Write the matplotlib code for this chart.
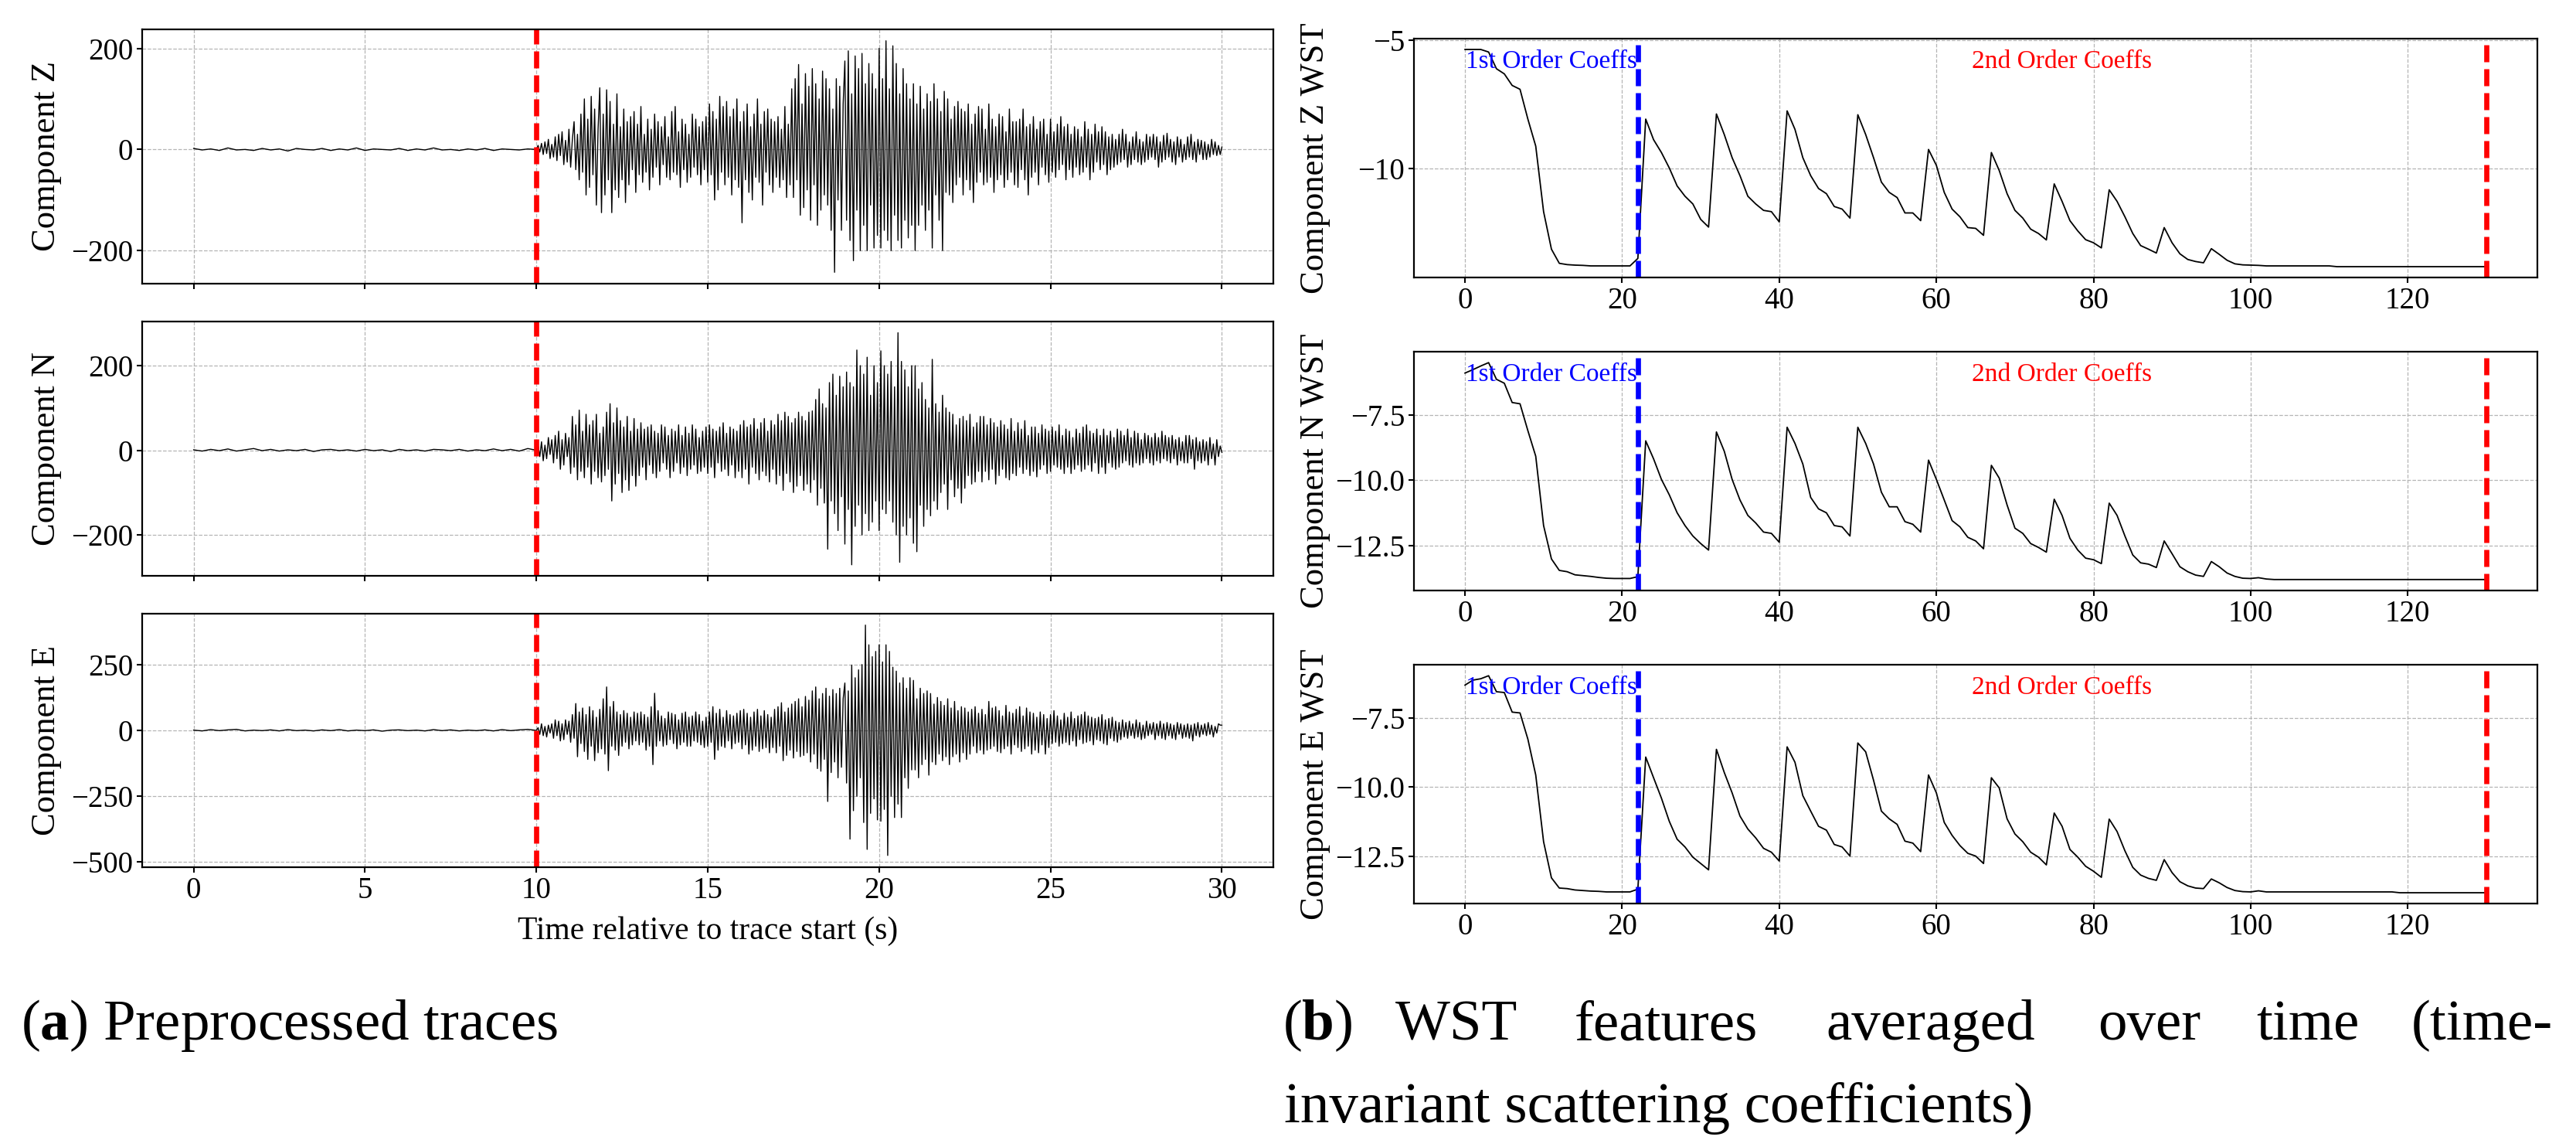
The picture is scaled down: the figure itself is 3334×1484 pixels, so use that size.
import matplotlib
matplotlib.use("Agg")
import matplotlib.pyplot as plt
import matplotlib.transforms as mtransforms
import numpy as np

plt.rcParams["font.family"] = ["Liberation Serif", "DejaVu Serif"]
plt.rcParams["mathtext.fontset"] = "custom"
plt.rcParams["mathtext.rm"] = "Liberation Serif"
plt.rcParams["mathtext.bf"] = "Liberation Serif:bold"

# ---- traces ----
# before the onset: one value every 0.25 s, 0 .. 9.75 s
z_pre = [2, -1, 1, -2, 3, -1, 0, -2, 2, -1, 1, -3, 2, 0, -1, 2, -2, 1, -1, 3,
         -2, 1, 0, -1, 2, -2, 1, -1, 3, -1, 0, -2, 1, -1, 2, -2, 1, 0, -1, 1]
n_pre = [1, -2, 2, -1, 3, -2, 1, 4, -1, 2, -2, 1, -1, 2, -3, 1, 2, -1, 1, -2,
         2, -1, 1, -3, 2, -1, 1, -2, 2, 1, -1, 2, -2, 1, -1, 3, -1, 2, -2, 4]
e_pre = [1, -2, 3, -1, 2, 4, -2, 1, -1, 2, -2, 3, -1, 1, -2, 2, -1, 3, -2, 1,
         -1, 2, -3, 1, 2, -1, 1, -2, 3, -1, 2, -2, 1, -1, 2, -2, 3, -1, 2, 4]

# after the onset: one value every 0.05 s, 10.0 .. 30.0 s
z_evt = [0, 8, -5, 12, -10, 15, -8, 20, -18, 10,
         -15, 25, -22, 30, -12, 35, -30, 18, -25, 40,
         -35, 20, 55, -40, 30, -60, 70, -45, 100, -90,
         60, -75, 105, -50, 80, -110, 40, 122, -125, 70,
         -90, 118, -60, 95, -125, 50, -80, 110, -95, 45,
         -60, 80, -105, 55, -70, 65, -40, 75, -85, 50,
         -50, 85, -65, 30, -45, 60, -80, 40, -55, 70,
         -35, 55, -70, 45, -30, 65, -55, 25, -60, 75,
         -45, 85, -50, 35, -75, 60, -40, 50, -65, 30,
         -55, 70, -35, 60, -50, 45, -70, 55, -40, 65,
         -65, 90, -50, 75, -100, 60, -80, 105, -45, 85,
         -70, 95, -55, 65, -90, 80, -60, 100, -75, 55,
         -145, 75, -60, 90, -85, 45, -100, 70, -55, 100,
         -65, 50, -110, 75, -45, 80, -70, 60, -85, 55,
         -55, 65, -75, 40, -60, 85, -95, 50, -70, 120,
         -95, 140, -60, 168, -130, 90, -115, 150, -80, 125,
         -140, 160, -70, 130, -150, 100, -120, 155, -90, 140,
         -110, 120, -160, 80, -243, 140, -100, 125, -160, 90,
         175, -140, 195, -180, 110, -220, 185, -120, 160, -200,
         190, -150, 130, -200, 170, -110, 150, -195, 120, -170,
         200, -195, 140, -160, 215, -180, 120, -200, 205, -130,
         170, -180, 110, -195, 160, -140, 130, -175, 100, -150,
         130, -200, 90, -150, 125, -110, 80, -160, 110, -120,
         95, -195, 130, -90, 100, -140, 75, -200, 115, -85,
         100, -90, 60, -105, 85, -70, 95, -55, 80, -90,
         75, -60, 90, -80, 50, -105, 70, -65, 85, -45,
         80, -70, 40, -65, 90, -55, 60, -85, 45, -60,
         70, -50, 65, -75, 35, -60, 80, -45, 55, -70,
         55, -75, 60, -40, 80, -60, 45, -90, 50, -55,
         65, -45, 40, -70, 55, -35, 60, -50, 30, -65,
         60, -45, 35, -55, 50, -40, 65, -30, 45, -60,
         50, -40, 30, -55, 45, -35, 40, -50, 25, -45,
         55, -35, 40, -60, 30, -45, 50, -25, 35, -40,
         45, -30, 35, -50, 25, -40, 30, -35, 20, -30,
         30, -25, 40, -20, 30, -35, 15, -30, 25, -20,
         35, -25, 20, -30, 15, -25, 30, -20, 25, -15,
         30, -20, 25, -35, 15, -25, 28, -20, 32, -15,
         20, -25, 15, -30, 25, -15, 20, -25, 10, -20,
         25, -15, 30, -20, 15, -25, 20, -10, 18, -20,
         15, -20, 10, -15, 20, -10, 15, -12, 8, -10,
         5]
n_evt = [0, 10, -15, 20, -25, 12, -20, 30, -10, 25,
         -30, 35, -20, 45, -45, 25, -35, 40, -15, 30,
         -55, 80, -40, 60, -70, 95, -50, 45, -65, 85,
         -40, 60, -80, 70, -50, 85, -65, 40, -75, 55,
         -60, 90, -45, 110, -120, 65, -80, 100, -55, 70,
         -100, 55, -70, 80, -95, 45, -60, 75, -85, 50,
         -60, 65, -40, 50, -70, 55, -35, 60, -55, 45,
         -65, 40, -50, 60, -30, 55, -45, 35, -65, 50,
         -50, 45, -30, 60, -55, 35, -40, 55, -60, 40,
         -45, 60, -35, 50, -55, 30, -50, 45, -40, 55,
         -55, 60, -40, 50, -65, 45, -30, 55, -50, 65,
         -45, 40, -60, 55, -35, 50, -65, 45, -50, 60,
         -65, 70, -45, 55, -80, 60, -40, 75, -55, 50,
         -70, 65, -50, 75, -60, 45, -75, 70, -45, 60,
         -80, 85, -60, 70, -95, 90, -55, 80, -75, 65,
         -100, 75, -85, 90, -60, 80, -95, 70, -80, 90,
         -100, 93, -70, 120, -130, 145, -90, 110, -125, 100,
         -234, 160, -120, 180, -150, 130, -190, 175, -110, 150,
         -222, 185, -140, 160, -271, 150, -180, 237, -130, 200,
         -200, 180, -150, 220, -190, 130, -170, 200, -120, 160,
         -190, 235, -140, 200, -150, 180, -120, 210, -170, 150,
         -200, 278, -265, 210, -180, 190, -200, 150, -160, 200,
         -220, 200, -240, 145, -130, 160, -180, 120, -140, 100,
         -155, 215, -120, 110, -140, 90, -100, 130, -80, 100,
         -140, 90, -70, 85, -110, 60, -90, 75, -125, 80,
         -90, 70, -60, 85, -80, 55, -75, 65, -50, 80,
         -75, 80, -50, 60, -70, 75, -45, 65, -80, 55,
         -60, 70, -45, 60, -65, 50, -70, 75, -55, 45,
         -60, 65, -40, 50, -55, 70, -45, 35, -60, 55,
         -50, 55, -63, 40, -45, 60, -35, 50, -55, 45,
         -50, 55, -35, 45, -40, 60, -45, 35, -55, 50,
         -40, 45, -55, 30, -45, 50, -35, 40, -50, 55,
         -45, 60, -35, 45, -50, 40, -30, 50, -55, 35,
         -40, 50, -55, 35, -30, 45, -40, 30, -45, 50,
         -40, 45, -30, 35, -25, 50, -35, 30, -40, 45,
         -30, 40, -35, 25, -30, 40, -20, 35, -30, 30,
         -35, 40, -25, 30, -30, 45, -20, 35, -25, 30,
         -30, 35, -20, 25, -35, 30, -25, 20, -30, 35,
         -30, 35, -20, 25, -45, 30, -25, 20, -30, 25,
         -25, 20, -35, 30, -20, 15, -35, 25, -15, 10,
         -5]
e_evt = [0, 10, -15, 25, -20, 15, -25, 20, -10, 25,
         -30, 40, -20, 35, -40, 25, -35, 40, -15, 35,
         -45, 60, -30, 102, -100, 70, -50, 85, -80, 60,
         -110, 90, -60, 75, -115, 50, -85, 80, -70, 120,
         -90, 165, -153, 90, -60, 110, -75, 70, -95, 60,
         -60, 75, -45, 65, -70, 50, -55, 70, -40, 65,
         -55, 70, -45, 60, -75, 50, -60, 90, -130, 141,
         -60, 75, -40, 55, -60, 45, -55, 70, -35, 65,
         -50, 60, -70, 40, -55, 65, -45, 70, -60, 50,
         -60, 55, -40, 70, -45, 60, -55, 35, -65, 50,
         -60, 70, -45, 90, -110, 65, -75, 80, -60, 50,
         -65, 75, -40, 60, -70, 55, -50, 65, -45, 75,
         -70, 80, -55, 65, -90, 50, -75, 70, -60, 80,
         -80, 55, -70, 75, -65, 60, -85, 50, -65, 80,
         -85, 90, -60, 105, -115, 70, -95, 85, -75, 100,
         -105, 110, -80, 120, -100, 90, -95, 129, -85, 115,
         -120, 150, -90, 165, -145, 120, -155, 140, -110, 160,
         -270, 130, -160, 155, -120, 140, -180, 160, -140, 120,
         180, -200, 150, -413, 248, -305, 200, -250, 230, -180,
         250, -350, 400, -452, 325, -315, 280, -260, 300, -340,
         325, -345, 260, -300, 325, -475, 300, -250, 240, -331,
         225, -280, 180, -331, 200, -180, 160, -220, 200, -150,
         190, -150, 120, -180, 160, -130, 140, -110, 150, -170,
         140, -120, 100, -130, 125, -90, 110, -115, 95, -100,
         120, -130, 85, -100, 110, -90, 75, -120, 90, -85,
         85, -110, 70, -90, 80, -60, 90, -85, 65, -75,
         80, -90, 60, -75, 110, -70, 85, -60, 90, -80,
         75, -85, 55, -70, 95, -60, 70, -90, 65, -55,
         80, -65, 90, -80, 55, -70, 85, -60, 70, -90,
         65, -75, 50, -85, 70, -55, 60, -90, 45, -65,
         60, -50, 75, -45, 55, -60, 40, -50, 65, -45,
         50, -55, 70, -40, 45, -60, 55, -35, 60, -50,
         70, -45, 55, -40, 50, -55, 45, -35, 50, -40,
         60, -50, 40, -55, 45, -30, 50, -40, 35, -45,
         30, -35, 40, -25, 30, -30, 35, -20, 25, -30,
         40, -25, 30, -35, 20, -30, 35, -20, 25, -15,
         30, -35, 25, -20, 35, -30, 25, -35, 30, -20,
         25, -30, 20, -35, 30, -15, 25, -30, 20, -25,
         25, -30, 20, -40, 25, -20, 30, -25, 20, -15,
         25, -20, 30, -15, 20, -25, 15, -10, 25, 20,
         20]

t_pre = np.arange(len(z_pre)) * 0.25
t_evt = 10 + np.arange(len(z_evt)) * 0.05

# ---- time-averaged WST coefficients, index 0..130 ----
wst_z = [-5.37, -5.37, -5.37, -5.47, -6.12, -6.32, -6.77, -6.92, -8.08, -9.13,
         -11.68, -13.14, -13.69, -13.74, -13.76, -13.77, -13.79, -13.79, -13.79, -13.79,
         -13.79, -13.79, -13.50, -8.08, -8.88, -9.38, -9.98, -10.68, -11.08, -11.38,
         -11.98, -12.28, -7.88, -8.68, -9.58, -10.28, -11.08, -11.38, -11.63, -11.68,
         -12.08, -7.76, -8.48, -9.58, -10.28, -10.78, -10.98, -11.48, -11.58, -11.93,
         -7.91, -8.68, -9.58, -10.53, -10.93, -11.13, -11.73, -11.73, -12.03, -9.26,
         -9.88, -10.93, -11.58, -11.88, -12.30, -12.33, -12.60, -9.38, -10.08, -10.98,
         -11.63, -11.93, -12.36, -12.53, -12.78, -10.60, -11.28, -12.03, -12.43, -12.77,
         -12.89, -13.09, -10.83, -11.28, -11.88, -12.53, -13.00, -13.14, -13.29, -12.30,
         -12.89, -13.32, -13.54, -13.62, -13.67, -13.12, -13.34, -13.57, -13.71, -13.75,
         -13.76, -13.77, -13.79, -13.79, -13.79, -13.79, -13.79, -13.79, -13.79, -13.79,
         -13.79, -13.82, -13.82, -13.82, -13.82, -13.82, -13.82, -13.82, -13.82, -13.82,
         -13.82, -13.82, -13.82, -13.82, -13.82, -13.82, -13.82, -13.82, -13.82, -13.82,
         -13.82]
wst_n = [-5.89, -5.76, -5.62, -5.49, -6.13, -6.28, -7.02, -7.07, -8.10, -9.08,
         -11.74, -13.02, -13.46, -13.51, -13.63, -13.66, -13.69, -13.73, -13.76, -13.77,
         -13.77, -13.77, -13.70, -8.49, -9.18, -9.97, -10.56, -11.25, -11.74, -12.14,
         -12.43, -12.68, -8.15, -8.89, -9.97, -10.76, -11.35, -11.64, -11.99, -12.04,
         -12.38, -7.97, -8.59, -9.38, -10.66, -11.10, -11.25, -11.74, -11.79, -12.14,
         -7.97, -8.59, -9.38, -10.46, -11.02, -11.02, -11.59, -11.69, -11.99, -9.23,
         -9.97, -10.76, -11.55, -11.79, -12.19, -12.33, -12.63, -9.43, -9.92, -10.95,
         -11.84, -12.04, -12.43, -12.58, -12.76, -10.73, -11.35, -12.23, -12.68, -12.99,
         -13.05, -13.20, -10.88, -11.35, -12.14, -12.87, -13.17, -13.22, -13.35, -12.33,
         -12.82, -13.32, -13.51, -13.64, -13.69, -13.12, -13.32, -13.56, -13.69, -13.76,
         -13.77, -13.74, -13.79, -13.81, -13.81, -13.81, -13.81, -13.81, -13.81, -13.81,
         -13.81, -13.81, -13.81, -13.81, -13.81, -13.81, -13.81, -13.81, -13.81, -13.81,
         -13.81, -13.81, -13.81, -13.81, -13.81, -13.81, -13.81, -13.81, -13.81, -13.81,
         -13.81]
wst_e = [-6.30, -6.12, -6.07, -5.96, -6.54, -6.57, -7.28, -7.31, -8.26, -9.56,
         -11.98, -13.29, -13.66, -13.68, -13.73, -13.75, -13.77, -13.78, -13.80, -13.80,
         -13.80, -13.80, -13.70, -8.91, -9.66, -10.40, -11.24, -11.89, -12.17, -12.54,
         -12.77, -13.00, -8.63, -9.47, -10.21, -11.05, -11.52, -11.84, -12.22, -12.36,
         -12.68, -8.54, -9.10, -10.31, -10.87, -11.42, -11.56, -12.08, -12.17, -12.50,
         -8.40, -8.72, -9.75, -10.87, -11.15, -11.35, -11.96, -12.03, -12.34, -9.56,
         -10.21, -11.28, -11.75, -12.12, -12.40, -12.50, -12.77, -9.66, -10.03, -11.15,
         -11.70, -11.98, -12.36, -12.54, -12.82, -10.94, -11.42, -12.26, -12.54, -12.87,
         -13.05, -13.27, -11.16, -11.61, -12.31, -12.91, -13.19, -13.31, -13.38, -12.63,
         -13.10, -13.43, -13.58, -13.66, -13.68, -13.33, -13.47, -13.64, -13.75, -13.79,
         -13.80, -13.76, -13.80, -13.80, -13.80, -13.80, -13.80, -13.80, -13.80, -13.80,
         -13.80, -13.80, -13.80, -13.80, -13.80, -13.80, -13.80, -13.80, -13.80, -13.83,
         -13.83, -13.83, -13.83, -13.83, -13.83, -13.83, -13.83, -13.83, -13.83, -13.83,
         -13.83]
coef_idx = np.arange(len(wst_z))

components = ["Z", "N", "E"]
traces = [(z_pre, z_evt), (n_pre, n_evt), (e_pre, e_evt)]
wst = [wst_z, wst_n, wst_e]
trace_ylim = [(-265, 238), (-297, 305), (-519, 443)]
trace_yticks = [[-200, 0, 200], [-200, 0, 200], [-500, -250, 0, 250]]
wst_ylim = [(-14.24, -4.95), (-14.23, -5.07), (-14.22, -5.56)]
wst_yticks = [[-10, -5], [-12.5, -10, -7.5], [-12.5, -10, -7.5]]
onset = 10
first_end = 22
second_end = 130

left_pos = [[0.0552, 0.7529, 0.4391, 0.2217],
            [0.0552, 0.4980, 0.4391, 0.2219],
            [0.0552, 0.2441, 0.4391, 0.2208]]
right_pos = [[0.5489, 0.7581, 0.4361, 0.2082],
             [0.5489, 0.4852, 0.4361, 0.2082],
             [0.5489, 0.2123, 0.4361, 0.2082]]

TICK = 28
LAB = 32
dash = (0, (3.3, 1.35))


def style(ax):
    for s in ax.spines.values():
        s.set_linewidth(1.6)
    ax.tick_params(direction="out", length=5, width=1.5, labelsize=TICK)
    ax.grid(True, color="#b5b5b5", linestyle="--", linewidth=0.9)
    ax.set_axisbelow(True)


fig = plt.figure(figsize=(33.34, 14.84), dpi=100)

for i, comp in enumerate(components):
    # left column: traces
    ax = fig.add_axes(left_pos[i])
    pre, evt = traces[i]
    ax.plot(np.concatenate([t_pre, t_evt]), list(pre) + list(evt), color="black", linewidth=1.0)
    ax.axvline(onset, color="red", linestyle=dash, linewidth=4.8)
    ax.set_xlim(-1.5, 31.5)
    ax.set_ylim(*trace_ylim[i])
    ax.set_xticks([0, 5, 10, 15, 20, 25, 30])
    ax.set_yticks(trace_yticks[i])
    style(ax)
    ax.set_ylabel("Component " + comp, fontsize=LAB)
    ax.yaxis.set_label_coords(-0.071, 0.5)
    if i < 2:
        ax.tick_params(labelbottom=False)
    else:
        ax.set_xlabel("Time relative to trace start (s)", fontsize=LAB - 2)
        ax.xaxis.set_label_coords(0.5, -0.193)

    # right column: WST features
    ax2 = fig.add_axes(right_pos[i])
    ax2.plot(coef_idx, wst[i], color="black", linewidth=1.3)
    ax2.axvline(first_end, ymax=0.978, color="blue", linestyle=dash, linewidth=4.8)
    ax2.axvline(second_end, ymax=0.978, color="red", linestyle=dash, linewidth=4.8)
    ax2.set_xlim(-6.5, 136.5)
    ax2.set_ylim(*wst_ylim[i])
    ax2.set_xticks([0, 20, 40, 60, 80, 100, 120])
    ax2.set_yticks(wst_yticks[i])
    style(ax2)
    ax2.set_ylabel("Component " + comp + " WST", fontsize=LAB)
    ax2.yaxis.set_label_coords(-0.074, 0.5)
    tr = mtransforms.blended_transform_factory(ax2.transData, ax2.transAxes)
    ax2.text(first_end / 2, 0.877, "1st Order Coeffs", color="blue", fontsize=24,
             ha="center", va="baseline", transform=tr)
    ax2.text((first_end + second_end) / 2, 0.877, "2nd Order Coeffs", color="red",
             fontsize=24, ha="center", va="baseline", transform=tr)

# sub-captions
W, H = 3334, 1484
CAP = 54
fig.text(27 / W, 1 - 1345 / H, r"($\mathbf{a}$) Preprocessed traces", fontsize=CAP,
         ha="left", va="baseline")
words = [r"($\mathbf{b}$)", "WST", "features", "averaged", "over", "time", "(time-"]
centers = [1705, 1885, 2156, 2499, 2782, 2987, 3212]
for w, cx in zip(words, centers):
    fig.text(cx / W, 1 - 1345 / H, w, fontsize=CAP, ha="center", va="baseline")
fig.text(1662 / W, 1 - 1452 / H, "invariant scattering coefficients)", fontsize=CAP,
         ha="left", va="baseline")

fig.savefig("out.png", dpi=100)
